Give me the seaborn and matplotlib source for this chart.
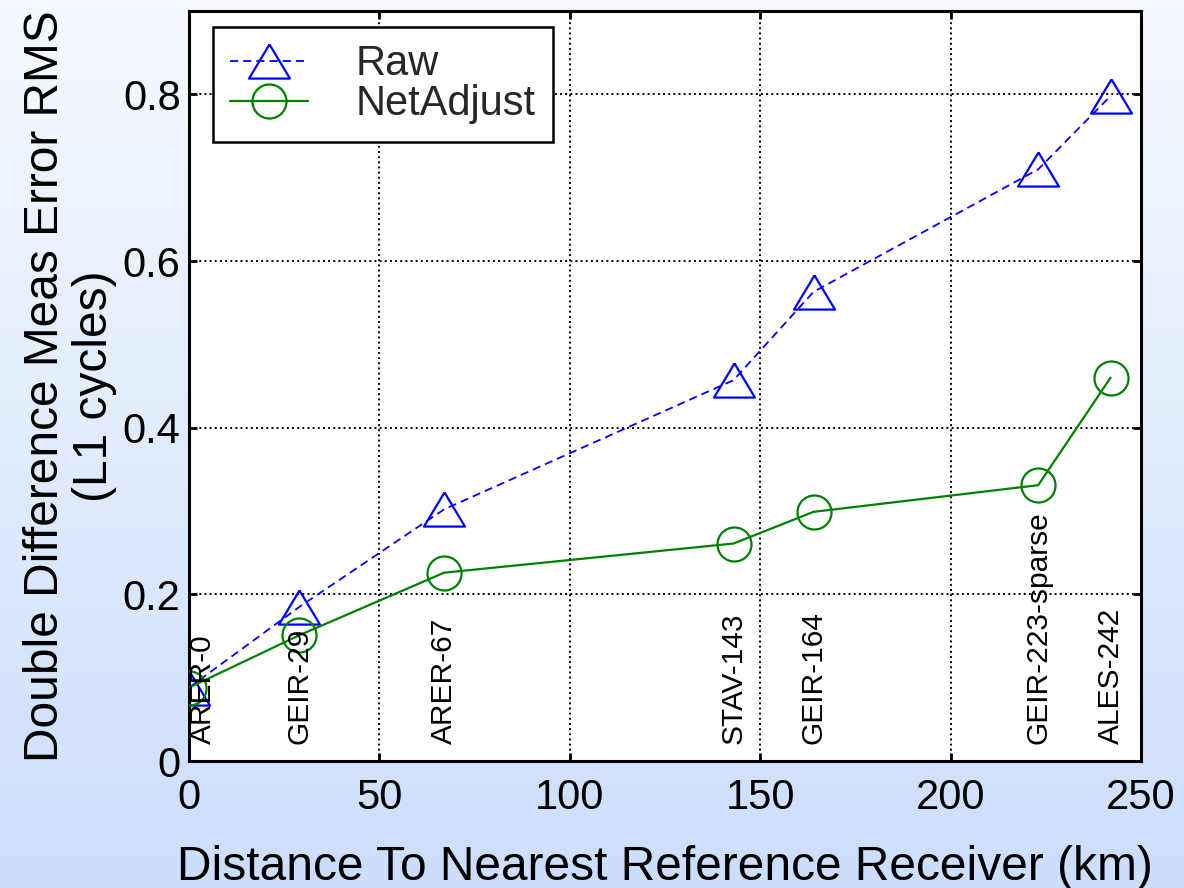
import numpy as np
import pandas as pd
import matplotlib
matplotlib.use("Agg")
import matplotlib.pyplot as plt
from matplotlib.lines import Line2D
import seaborn as sns

# Station distance to nearest reference receiver (km)
stations = ["ARER-0", "GEIR-29", "ARER-67", "STAV-143", "GEIR-164",
            "GEIR-223-sparse", "ALES-242"]
distance_km = [0, 29, 67, 143, 164, 223, 242]

# Double-difference measurement error RMS (L1 cycles)
raw_rms = [0.088, 0.185, 0.302, 0.457, 0.563, 0.710, 0.798]
netadjust_rms = [0.088, 0.151, 0.226, 0.261, 0.299, 0.331, 0.460]

x_ticks = [0, 50, 100, 150, 200, 250]
y_ticks = [0, 0.2, 0.4, 0.6, 0.8]
y_tick_labels = ["0", "0.2", "0.4", "0.6", "0.8"]

df = pd.DataFrame({
    "distance": distance_km * 2,
    "rms": raw_rms + netadjust_rms,
    "series": ["Raw"] * len(raw_rms) + ["NetAdjust"] * len(netadjust_rms),
})

sns.set_theme(style="white")
plt.rcParams["font.family"] = ["Liberation Sans", "DejaVu Sans"]

fig = plt.figure(figsize=(11.84, 8.88), dpi=100)

# soft vertical background gradient behind the plot
bg = fig.add_axes([0, 0, 1, 1], zorder=-10)
top_c = np.array([246, 249, 255]) / 255.0
bot_c = np.array([204, 222, 252]) / 255.0
t = np.linspace(0, 1, 256)[:, None]
grad = (top_c[None, :] * (1 - t) + bot_c[None, :] * t)[:, None, :]
bg.imshow(grad, aspect="auto", extent=[0, 1, 0, 1], origin="upper")
bg.set_axis_off()

ax = fig.add_axes([0.1596, 0.143, 0.8041, 0.8446])
ax.set_facecolor("white")

tri = [(0, 1.0), (-1.2, -1.0), (1.2, -1.0), (0, 1.0)]
raw_style = dict(color="#0000ff", linestyle=(0, (4.5, 2.8)), linewidth=1.3,
                 marker=tri, markersize=29.5, markerfacecolor="none",
                 markeredgecolor="#0000ff", markeredgewidth=1.6)
net_style = dict(color="#008000", linestyle="-", linewidth=1.6,
                 marker="o", markersize=24.5, markerfacecolor="none",
                 markeredgecolor="#008000", markeredgewidth=1.6)

sns.lineplot(data=df[df.series == "Raw"], x="distance", y="rms", ax=ax,
             sort=False, estimator=None, zorder=4, **raw_style)
sns.lineplot(data=df[df.series == "NetAdjust"], x="distance", y="rms", ax=ax,
             sort=False, estimator=None, zorder=4, **net_style)

# station names along the bottom of the plot
for i, (name, d) in enumerate(zip(stations, distance_km)):
    ax.annotate(name, xy=(d, 0), xytext=(0, 12), textcoords="offset points",
                rotation=90, ha="left" if i == 0 else "center", va="bottom",
                fontsize=21.5, color="black", zorder=5)

ax.set_xlim(0, 250)
ax.set_ylim(0, 0.9)
ax.set_xticks(x_ticks)
ax.set_yticks(y_ticks)
ax.set_yticklabels(y_tick_labels)

ax.grid(True, linestyle=":", color="black", linewidth=1.4)
ax.set_axisbelow(True)
for s in ax.spines.values():
    s.set_color("black")
    s.set_linewidth(2.2)
    s.set_visible(True)

ax.tick_params(axis="both", which="major", direction="in", length=6,
               width=2, color="black", labelsize=30, labelcolor="black",
               top=True, right=True, bottom=True, left=True)
ax.tick_params(axis="x", pad=12)
ax.tick_params(axis="y", pad=6)

ax.set_xlabel("Distance To Nearest Reference Receiver (km)", fontsize=34.5,
              color="black", labelpad=19.5)
ax.set_ylabel("Double Difference Meas Error RMS\n(L1 cycles)", fontsize=34.5,
              color="black", labelpad=4, linespacing=1.12)

handles = [Line2D([], [], **raw_style), Line2D([], [], **net_style)]
leg = ax.legend(handles, ["Raw", "NetAdjust"], loc="upper left",
                bbox_to_anchor=(0.0252, 0.9787), borderaxespad=0,
                fontsize=30, frameon=True, fancybox=False, shadow=False,
                handlelength=1.85, handletextpad=1.15, labelspacing=0.0,
                borderpad=0.42, numpoints=1)
frame = leg.get_frame()
frame.set_edgecolor("black")
frame.set_linewidth(1.8)
frame.set_facecolor("white")
frame.set_alpha(1)

fig.savefig("out.png", dpi=100)
